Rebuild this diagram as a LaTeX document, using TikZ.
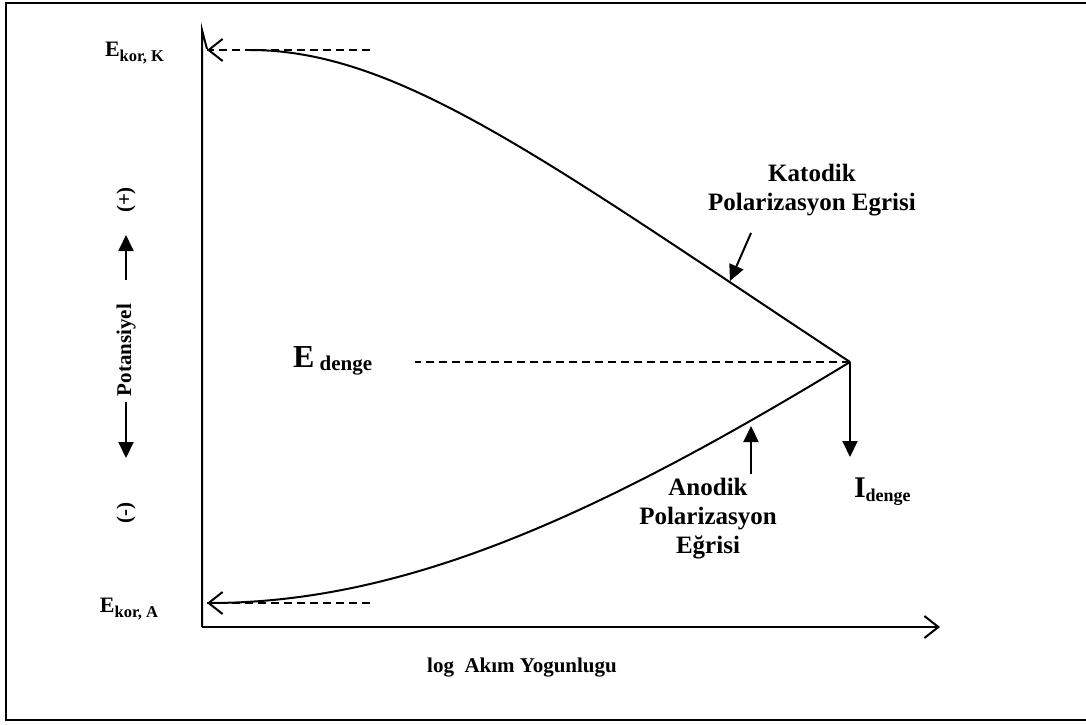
\documentclass[tikz,border=0pt]{standalone}
\usepackage{fontspec}
\setmainfont{Liberation Serif}
\usetikzlibrary{arrows.meta}
\begin{document}
\begin{tikzpicture}[x=1pt,y=-1pt,line width=2pt,
  lbl/.style={font=\bfseries\fontsize{25}{29}\selectfont,align=center,inner sep=0pt},
  axlbl/.style={font=\bfseries\fontsize{21}{24}\selectfont,inner sep=0pt},
  dashln/.style={dash pattern=on 8pt off 5pt,line width=1.6pt},
  openarr/.style={-{Straight Barb[length=14pt,width=22pt,line width=2pt]}},
  filledarr/.style={-{Triangle[length=16pt,width=15pt]}}
]
\useasboundingbox (0,0) rectangle (1086,724);
% frame
\draw[line width=2.5pt] (6,3) rectangle (1095,720);
% axes
\coordinate (O) at (202,627);
\coordinate (Ytop) at (202,30);
\coordinate (Xend) at (940,627);
\draw (O) -- (Ytop) -- (207,49);
\draw[openarr] (O) -- (Xend);
% key points
\coordinate (Eq) at (850,362);
\coordinate (KK) at (207,50);
\coordinate (KA) at (207,603);
% dashed lines
\draw[dashln] (850,362) -- (415,362);
\draw[dashln] (370,50) -- (KK);
\draw[line width=2pt,{Straight Barb[length=14pt,width=22pt,line width=2pt]}-] (KK) -- ++(1,0);
\draw[dashln] (370,603) -- (KA);
% cathodic curve
\draw (250,50) .. controls (400,50) and (550,164) .. (Eq);
% anodic curve
\draw[openarr] (Eq) .. controls (600,514) and (407,603) .. (KA);
% I denge arrow
\draw[filledarr] (Eq) -- (850,457);
% labels
\node[anchor=base west,inner sep=0pt,font=\bfseries] (Iden) at (853,497)
  {\fontsize{30}{30}\selectfont I\raisebox{-4pt}{\fontsize{18}{18}\selectfont denge}};
\node[anchor=base west,inner sep=0pt,font=\bfseries] (Eden) at (292,367)
  {\fontsize{32}{32}\selectfont E\,\raisebox{-3pt}{\fontsize{21}{21}\selectfont denge}};
\node[anchor=base west,inner sep=0pt,font=\bfseries] (Ekk) at (104,56)
  {\fontsize{22}{22}\selectfont E\raisebox{-5pt}{\fontsize{16.5}{16.5}\selectfont kor, K}};
\node[anchor=base east,inner sep=0pt,font=\bfseries] (Eka) at (159,612)
  {\fontsize{22}{22}\selectfont E\raisebox{-5pt}{\fontsize{16.5}{16.5}\selectfont kor, A}};
\node[lbl] (Kat) at (812,190) {Katodik\\Polarizasyon Egrisi};
\node[lbl] (Ano) at (708,519) {Anodik\\Polarizasyon\\Eğrisi};
\node[axlbl] (Xl) at (522,668) {log\ \ Akım Yogunlugu};
% pointer arrows
\draw[filledarr] (751,233) -- (730,281);
\draw[filledarr] (751,474) -- (751,426);
% potential labels
\node[axlbl,rotate=90] (Pot) at (126,350) {Potansiyel};
\node[axlbl,rotate=90] (Plus) at (126,200) {(+)};
\node[axlbl,rotate=90] (Minus) at (126,513) {(-)};
\draw[filledarr] (126,280) -- (126,235);
\draw[filledarr] (126,402) -- (126,458);
\end{tikzpicture}
\end{document}
